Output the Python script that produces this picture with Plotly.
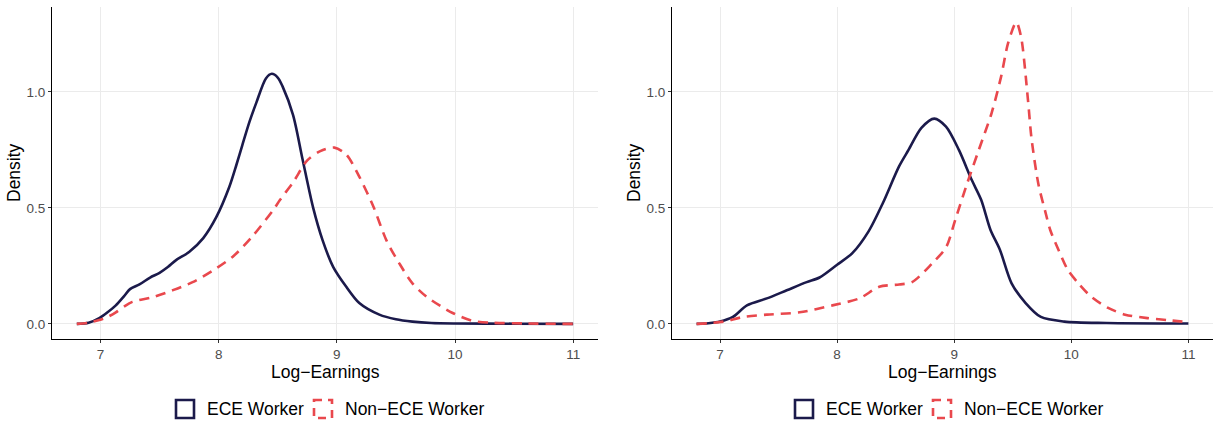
import plotly.graph_objects as go

# ---- Density estimates of log-earnings (two samples) ----
# Panel A
a_ece_x = [6.80, 6.90, 6.99, 7.06, 7.13, 7.20, 7.25, 7.33, 7.42, 7.50, 7.57, 7.64, 7.75, 7.87,
           7.98, 8.09, 8.15, 8.20, 8.26, 8.32, 8.40, 8.45, 8.50, 8.54, 8.63, 8.71, 8.80, 8.88, 8.97, 9.08,
           9.19, 9.36, 9.50, 9.64, 9.80, 10.0, 10.5, 11.0]
a_ece_y = [0.000, 0.005, 0.025, 0.050, 0.080, 0.120, 0.150, 0.170, 0.200, 0.220, 0.245, 0.275, 0.310, 0.370,
           0.460, 0.590, 0.685, 0.770, 0.870, 0.955, 1.058, 1.078, 1.062, 1.025, 0.900, 0.710, 0.500, 0.360, 0.245, 0.160,
           0.090, 0.040, 0.020, 0.010, 0.004, 0.002, 0.001, 0.000]
a_non_x = [6.80, 6.90, 6.99, 7.06, 7.13, 7.20, 7.27, 7.44, 7.61, 7.78, 7.95, 8.12, 8.29, 8.46,
           8.52, 8.63, 8.75, 8.86, 8.98, 9.08, 9.19, 9.31, 9.42, 9.53, 9.64, 9.76, 9.98, 10.15,
           10.32, 10.6, 11.0]
a_non_y = [0.000, 0.005, 0.017, 0.030, 0.050, 0.075, 0.095, 0.115, 0.145, 0.180, 0.230, 0.290, 0.380, 0.490,
           0.535, 0.610, 0.705, 0.745, 0.760, 0.730, 0.635, 0.505, 0.360, 0.260, 0.175, 0.117, 0.047, 0.013,
           0.005, 0.002, 0.000]

# Panel B
b_ece_x = [6.80, 6.90, 7.00, 7.11, 7.23, 7.40, 7.57, 7.74, 7.85, 8.00, 8.13, 8.27, 8.39, 8.53,
           8.61, 8.72, 8.83, 8.93, 9.04, 9.15, 9.23, 9.31, 9.39, 9.49, 9.61, 9.74, 9.94, 10.3, 11.0]
b_ece_y = [0.000, 0.003, 0.010, 0.030, 0.080, 0.110, 0.145, 0.180, 0.200, 0.255, 0.305, 0.400, 0.520, 0.680,
           0.750, 0.845, 0.885, 0.850, 0.750, 0.620, 0.535, 0.405, 0.320, 0.175, 0.090, 0.030, 0.010, 0.004, 0.002]
b_non_x = [6.80, 6.90, 7.03, 7.20, 7.40, 7.68, 7.96, 8.19, 8.36, 8.53, 8.64, 8.81, 8.93, 9.01,
           9.10, 9.21, 9.32, 9.40, 9.46, 9.53, 9.57, 9.63, 9.66, 9.72, 9.78, 9.82, 9.89, 9.97,
           10.06, 10.17, 10.31, 10.46, 10.65, 10.85, 11.0]
b_non_y = [0.000, 0.003, 0.010, 0.030, 0.040, 0.050, 0.080, 0.110, 0.160, 0.170, 0.180, 0.260, 0.330, 0.450,
           0.590, 0.750, 0.910, 1.065, 1.210, 1.300, 1.240, 0.965, 0.800, 0.600, 0.480, 0.405, 0.320, 0.233,
           0.175, 0.117, 0.070, 0.040, 0.025, 0.015, 0.007]

series_names = ["ECE Worker", "Non\u2212ECE Worker"]
x_title = "Log\u2212Earnings"
y_title = "Density"
x_ticks = [7, 8, 9, 10, 11]
y_ticks = [0.0, 0.5, 1.0]
y_tick_text = ["0.0", "0.5", "1.0"]

NAVY = "#1b1a4b"
RED = "#e9484d"
FONT = "Liberation Sans, Arial, sans-serif"

W, H = 1215, 425
M_L, M_R, M_T, M_B = 52, 2, 7, 86
PW = W - M_L - M_R
PH = H - M_T - M_B

def px_to_paper_x(px):
    return (px - M_L) / PW

def px_to_paper_y(py):
    return (H - M_B - py) / PH

panel_px = [(52, 598), (672, 1213)]
dom_a = [0.0, px_to_paper_x(panel_px[0][1])]
dom_b = [px_to_paper_x(panel_px[1][0]), 1.0]

fig = go.Figure()
panels = [
    (a_ece_x, a_ece_y, a_non_x, a_non_y, "x", "y"),
    (b_ece_x, b_ece_y, b_non_x, b_non_y, "x2", "y2"),
]
for ex, ey, nx, ny, xa, ya in panels:
    fig.add_trace(go.Scatter(x=ex, y=ey, mode="lines", xaxis=xa, yaxis=ya, showlegend=False,
                             line=dict(color=NAVY, width=2.6, shape="spline", smoothing=0.8),
                             name=series_names[0]))
    fig.add_trace(go.Scatter(x=nx, y=ny, mode="lines", xaxis=xa, yaxis=ya, showlegend=False,
                             line=dict(color=RED, width=2.6, dash="10px,7px", shape="spline", smoothing=0.8),
                             name=series_names[1]))

axis_common = dict(
    showgrid=True, gridcolor="#ebebeb", gridwidth=1,
    showline=True, linecolor="black", linewidth=1.2,
    ticks="outside", ticklen=3, tickcolor="#333333", tickwidth=1,
    tickfont=dict(family=FONT, size=13.5, color="#4d4d4d"),
    zeroline=False,
)
x_common = dict(axis_common, range=[6.59, 11.21], tickvals=x_ticks, ticktext=[str(t) for t in x_ticks])
y_common = dict(axis_common, range=[-0.065, 1.366], tickvals=y_ticks, ticktext=y_tick_text)

fig.update_layout(
    width=W, height=H,
    margin=dict(l=M_L, r=M_R, t=M_T, b=M_B),
    paper_bgcolor="white", plot_bgcolor="white",
    showlegend=False,
    xaxis=dict(x_common, domain=dom_a, anchor="y"),
    yaxis=dict(y_common, anchor="x"),
    xaxis2=dict(x_common, domain=dom_b, anchor="y2"),
    yaxis2=dict(y_common, anchor="x2"),
)

title_font = dict(family=FONT, size=17.5, color="black")
plot_mid_y = (M_T + H - M_B) / 2
for (left, right) in panel_px:
    fig.add_annotation(xref="paper", yref="paper", x=px_to_paper_x((left + right) / 2),
                       y=px_to_paper_y(372), text=x_title, showarrow=False,
                       xanchor="center", yanchor="middle", font=title_font)
    fig.add_annotation(xref="paper", yref="paper", x=px_to_paper_x(left - 38),
                       y=px_to_paper_y(plot_mid_y), text=y_title, showarrow=False, textangle=-90,
                       xanchor="center", yanchor="middle", font=title_font)

# Legends below each panel: outlined key boxes with labels
key_size = 18
legend_y = 409
legend_rows = [
    [(176, NAVY, "solid", series_names[0], 205), (314, RED, "8px,6px", series_names[1], 343)],
    [(795, NAVY, "solid", series_names[0], 824), (933, RED, "8px,6px", series_names[1], 962)],
]
for row in legend_rows:
    for kx, col, dash, label, tx in row:
        fig.add_shape(type="rect", xref="paper", yref="paper",
                      x0=px_to_paper_x(kx), x1=px_to_paper_x(kx + key_size),
                      y0=px_to_paper_y(legend_y - key_size / 2), y1=px_to_paper_y(legend_y + key_size / 2),
                      line=dict(color=col, width=2.6, dash=dash), fillcolor="rgba(0,0,0,0)")
        fig.add_annotation(xref="paper", yref="paper", x=px_to_paper_x(tx), y=px_to_paper_y(legend_y),
                           text=label, showarrow=False, xanchor="left", yanchor="middle",
                           font=dict(family=FONT, size=17.5, color="black"))

fig.write_html("out.html")
